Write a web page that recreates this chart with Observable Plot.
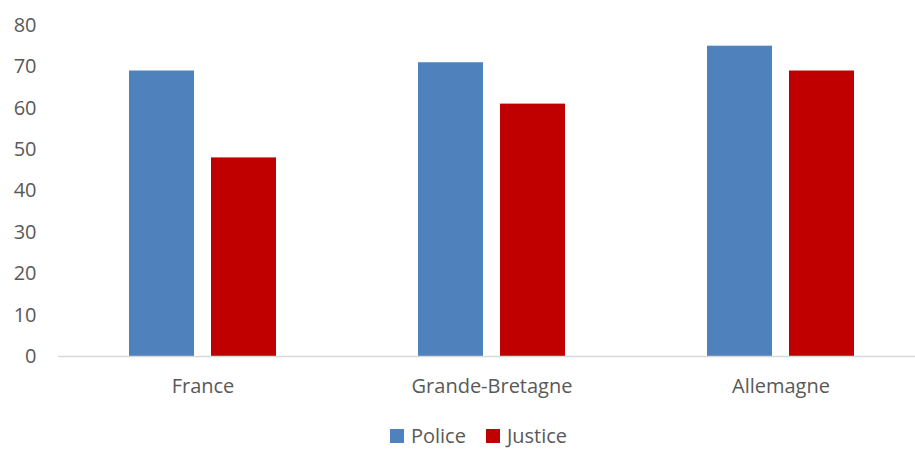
<!DOCTYPE html>
<html>
<head>
<meta charset="utf-8">
<script src="https://cdn.jsdelivr.net/npm/d3@7"></script>
<script src="https://cdn.jsdelivr.net/npm/@observablehq/plot@0.6"></script>
<style>
  html, body { margin: 0; padding: 0; background: #fff; }
  body { width: 915px; height: 449px; overflow: hidden; font-family: "Open Sans", "Liberation Sans", sans-serif; }
  #chart { width: 915px; overflow: hidden; height: 400px; }
  #legend { display: flex; justify-content: center; align-items: center; gap: 20px; font-size: 20px; line-height: 27px; height: 27px; color: #595959; margin-top: 22px; padding-left: 42px; }
  #legend span.item { display: flex; align-items: center; gap: 7px; }
  #legend span.sw { display: inline-block; width: 14px; height: 14px; }
</style>
</head>
<body>
<div id="chart"></div>
<div id="legend"></div>
<script>
const countries = ["France", "Grande-Bretagne", "Allemagne"];
const series = ["Police", "Justice"];
const police = [69, 71, 75];
const justice = [48, 61, 69];
const colors = ["#4F81BD", "#C00000"];
const yTicks = [0, 10, 20, 30, 40, 50, 60, 70, 80];

const data = [];
countries.forEach((c, i) => {
  data.push({country: c, series: "Police", value: police[i]});
  data.push({country: c, series: "Justice", value: justice[i]});
});

const chart = Plot.plot({
  width: 925,
  height: 400,
  marginLeft: 58,
  marginRight: 0,
  marginTop: 25,
  marginBottom: 44,
  style: {fontFamily: "'Open Sans', 'Liberation Sans', sans-serif", fontSize: "20px", color: "#595959", background: "#fff", maxWidth: "none"},
  fx: {domain: countries, padding: 0, label: null, tickSize: 0, tickPadding: 22, axis: "bottom"},
  x: {domain: series, axis: null, paddingInner: 0.207, paddingOuter: 0.86},
  y: {domain: [0, 80], ticks: yTicks, label: null, tickSize: 0, tickPadding: 22},
  color: {domain: series, range: colors},
  marks: [
    Plot.barY(data, {fx: "country", x: "series", y: "value", fill: "series"}),
    Plot.ruleY([0], {stroke: "#d9d9d9", strokeWidth: 1.5})
  ]
});
document.getElementById("chart").appendChild(chart);

const legend = document.getElementById("legend");
series.forEach((s, i) => {
  const item = document.createElement("span");
  item.className = "item";
  const sw = document.createElement("span");
  sw.className = "sw";
  sw.style.background = colors[i];
  item.appendChild(sw);
  item.appendChild(document.createTextNode(s));
  legend.appendChild(item);
});
</script>
</body>
</html>
